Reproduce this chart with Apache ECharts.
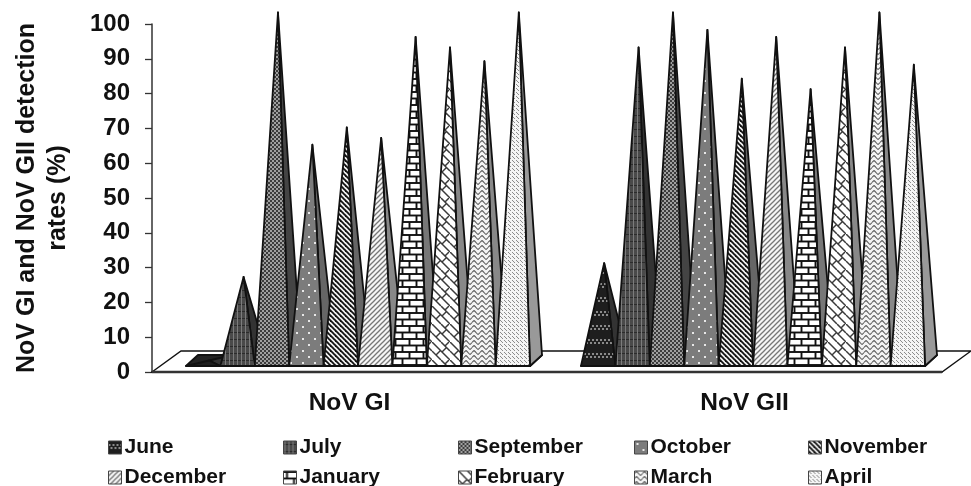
<!DOCTYPE html>
<html>
    <head>
        <meta charset="UTF-8">
        <title>NoV GI and NoV GII detection rates</title>
        <style type="text/css">
            body,html{ margin: 0; width: 100%; height: 100%; overflow: hidden; background: #fff;}
            .map-box{ width: 971px; height: 486px; filter: blur(0.45px);}
        </style>
    </head>
    <body>
        <div class="map-box" id="chart"></div>

        <script src="https://cdn.jsdelivr.net/npm/echarts@6/dist/echarts.min.js" type="text/javascript" charset="utf-8"></script>
        <script type="text/javascript">
            var categories = ['NoV GI', 'NoV GII'];
            var months = ['June', 'July', 'September', 'October', 'November', 'December', 'January', 'February', 'March', 'April'];
            var giValues = [0, 24, 100, 62, 67, 64, 93, 90, 86, 100];
            var giiValues = [28, 90, 100, 95, 81, 93, 78, 90, 100, 85];
            var yTicks = [0, 100, 10];
            var yTitle = 'NoV GI and NoV GII detection\nrates (%)';
            var sideColors = ['#333', '#333', '#444', '#666', '#666', '#888', '#777', '#888', '#888', '#999'];

            var FONT = '"Liberation Sans", Arial, sans-serif';

            // 图案填充，每个月一个小画布
            function tile(w, h, bg, draw) {
                var c = document.createElement('canvas');
                c.width = w;
                c.height = h;
                var ctx = c.getContext('2d');
                ctx.fillStyle = bg;
                ctx.fillRect(0, 0, w, h);
                draw(ctx);
                return { image: c, repeat: 'repeat' };
            }
            function dots(ctx, color, size, list) {
                ctx.fillStyle = color;
                list.forEach(function (p) { ctx.fillRect(p[0], p[1], size, size); });
            }
            function strokes(ctx, color, width, list) {
                ctx.strokeStyle = color;
                ctx.lineWidth = width;
                list.forEach(function (p) {
                    ctx.beginPath();
                    ctx.moveTo(p[0], p[1]);
                    ctx.lineTo(p[2], p[3]);
                    ctx.stroke();
                });
            }
            var patterns = [
                tile(8, 14, '#1e1e1e', function (ctx) { dots(ctx, '#8a8a8a', 2, [[0, 3], [4, 3], [2, 6], [6, 6]]); }),
                tile(4, 7, '#4a4a4a', function (ctx) {
                    dots(ctx, '#7c7c7c', 1, [[1, 0], [1, 1], [1, 2], [1, 3], [1, 4], [1, 5], [1, 6]]);
                    dots(ctx, '#2c2c2c', 1, [[0, 3], [2, 3], [3, 3]]);
                }),
                tile(4, 4, '#3c3c3c', function (ctx) { dots(ctx, '#a0a0a0', 2, [[0, 0], [2, 2]]); }),
                tile(12, 12, '#7c7c7c', function (ctx) { dots(ctx, '#e8e8e8', 2, [[2, 2], [8, 8]]); }),
                tile(5, 5, '#f2f2f2', function (ctx) { strokes(ctx, '#111', 1.8, [[-1, -1, 6, 6], [-1, 4, 1, 6], [4, -1, 6, 1]]); }),
                tile(5, 5, '#f6f6f6', function (ctx) { strokes(ctx, '#777', 1.3, [[-1, 6, 6, -1], [-1, 1, 1, -1], [4, 6, 6, 4]]); }),
                tile(14, 13, '#fff', function (ctx) {
                    strokes(ctx, '#111', 1.9, [[0, 1, 14, 1], [0, 7.5, 14, 7.5], [3.5, 1, 3.5, 7.5], [10.5, 7.5, 10.5, 13], [10.5, 0, 10.5, 1]]);
                }),
                tile(18, 18, '#fff', function (ctx) {
                    strokes(ctx, '#3a3a3a', 1.5, [[0, 0, 18, 18], [9, 0, 18, 9], [0, 9, 9, 18], [10, 10, 14.5, 5.5], [4, 13, 8.5, 8.5], [13, 4, 17, 0]]);
                }),
                tile(8, 5, '#f4f4f4', function (ctx) {
                    ctx.strokeStyle = '#555';
                    ctx.lineWidth = 1.1;
                    ctx.beginPath();
                    ctx.moveTo(0, 2.5);
                    ctx.bezierCurveTo(2, 0, 2, 0, 4, 2.5);
                    ctx.bezierCurveTo(6, 5, 6, 5, 8, 2.5);
                    ctx.stroke();
                }),
                tile(4, 4, '#f5f5f5', function (ctx) { dots(ctx, '#8c8c8c', 1, [[0, 0], [2, 2], [1, 1]]); })
            ];

            // 棱锥：正面 + 右侧面，底面只有高度为0时才看得到
            function renderPyramid(seriesIdx) {
                return function (params, api) {
                    var cat = api.value(0);
                    var band = api.size([1, 0])[0];
                    var center = api.coord([cat, 0])[0];
                    var zeroY = api.coord([cat, 0])[1];
                    var topY = api.coord([cat, api.value(1)])[1];
                    var barW = band * 0.0871;
                    var left = center + band * 0.0215 - barW * months.length / 2 + barW * seriesIdx;
                    var right = left + barW;
                    var frontY = zeroY - 6;
                    var dx = 12, dy = 11;
                    var tip = [left + barW / 2 + dx / 2, topY - 11.5];
                    var line = { stroke: '#111', lineWidth: 1.8, lineJoin: 'round' };
                    return {
                        type: 'group',
                        children: [
                            {
                                type: 'polygon',
                                shape: { points: [[left, frontY], [right, frontY], [right + dx, frontY - dy], [left + dx, frontY - dy]] },
                                style: echarts.util.extend({ fill: '#222' }, line)
                            },
                            {
                                type: 'polygon',
                                shape: { points: [[right, frontY], [right + dx, frontY - dy], tip] },
                                style: echarts.util.extend({ fill: sideColors[seriesIdx] }, line)
                            },
                            {
                                type: 'polygon',
                                shape: { points: [[left, frontY], [right, frontY], tip] },
                                style: echarts.util.extend({ fill: patterns[seriesIdx] }, line)
                            }
                        ]
                    };
                };
            }

            function renderFloor(params, api) {
                var x0 = params.coordSys.x;
                var x1 = x0 + params.coordSys.width;
                var y0 = params.coordSys.y + params.coordSys.height;
                return {
                    type: 'group',
                    children: [
                        {
                            type: 'polygon',
                            shape: { points: [[x0, y0], [x1, y0], [x1 + 29, y0 - 21], [x0 + 29, y0 - 21]] },
                            style: { fill: '#fff', stroke: '#111', lineWidth: 1.4 }
                        },
                        {
                            type: 'line',
                            shape: { x1: x0, y1: y0, x2: x1, y2: y0 },
                            style: { stroke: '#333', lineWidth: 2.4 }
                        }
                    ]
                };
            }

            var series = [{
                type: 'custom',
                name: 'floor',
                silent: true,
                data: [[0, 0]],
                renderItem: renderFloor
            }];
            months.forEach(function (m, i) {
                series.push({
                    type: 'custom',
                    name: m,
                    itemStyle: { color: patterns[i] },
                    encode: { x: 0, y: 1 },
                    data: [[0, giValues[i]], [1, giiValues[i]]],
                    renderItem: renderPyramid(i)
                });
            });

            // 图例分五列，每列两项
            var legendLeft = [108, 283, 458, 634, 808];
            var legends = legendLeft.map(function (x, col) {
                return {
                    left: x,
                    top: 437,
                    height: 60,
                    padding: 0,
                    orient: 'vertical',
                    itemWidth: 13,
                    itemHeight: 13,
                    itemGap: 9,
                    selectedMode: false,
                    textStyle: { fontFamily: FONT, fontWeight: 'bold', fontSize: 21, lineHeight: 21, color: '#111', padding: [0, 0, 0, -2] },
                    data: [col, col + 5].map(function (k) {
                        return {
                            name: months[k],
                            icon: 'rect',
                            itemStyle: { color: patterns[k], borderColor: '#444', borderWidth: 1 }
                        };
                    })
                };
            });

            var myChart = echarts.init(document.getElementById('chart'), null, { renderer: 'canvas' });
            myChart.setOption({
                animation: false,
                backgroundColor: '#fff',
                grid: { left: 152, right: 29, top: 24, height: 348, outerBoundsMode: 'none' },
                legend: legends,
                xAxis: {
                    type: 'category',
                    data: categories,
                    axisLine: { lineStyle: { color: '#333', width: 1.5 } },
                    axisTick: { length: 8, lineStyle: { color: '#333', width: 1.3 } },
                    axisLabel: { fontFamily: FONT, fontWeight: 'bold', fontSize: 24.5, color: '#111', margin: 19 }
                },
                yAxis: {
                    type: 'value',
                    min: yTicks[0],
                    max: yTicks[1],
                    interval: yTicks[2],
                    name: yTitle,
                    nameLocation: 'middle',
                    nameRotate: 90,
                    nameGap: 78,
                    nameTextStyle: { fontFamily: FONT, fontWeight: 'bold', fontSize: 25, lineHeight: 31, color: '#111' },
                    splitLine: { show: false },
                    axisLine: { show: true, lineStyle: { color: '#333', width: 1.5 } },
                    axisTick: { show: true, length: 7, lineStyle: { color: '#333', width: 1.3 } },
                    axisLabel: { fontFamily: FONT, fontWeight: 'bold', fontSize: 24, color: '#111', margin: 22 }
                },
                series: series
            });
        </script>
    </body>
</html>
